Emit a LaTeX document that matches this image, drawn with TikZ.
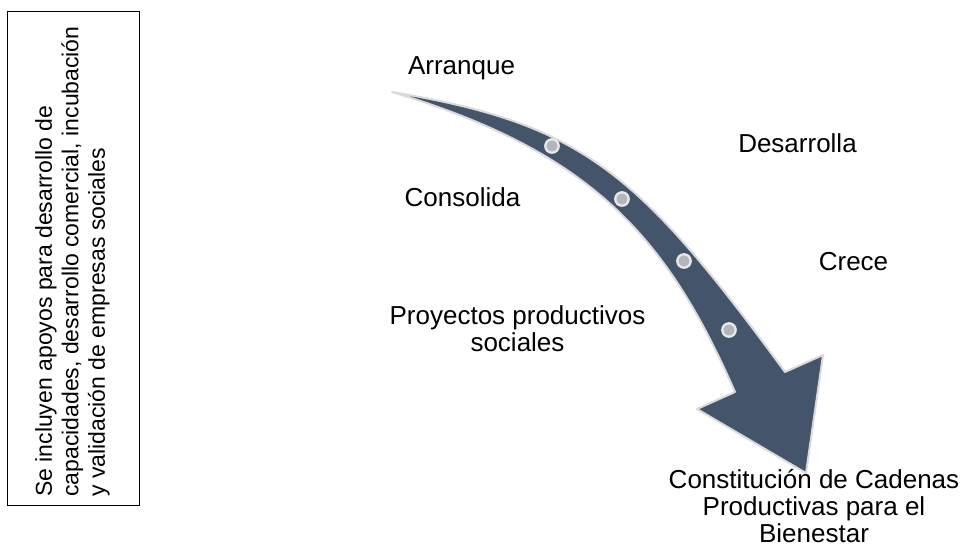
\documentclass[tikz,border=0pt]{standalone}
\usepackage{fontspec}
\setmainfont{Liberation Sans}
\definecolor{arrowfill}{RGB}{68,84,106}
\definecolor{arrowedge}{RGB}{218,218,218}
\definecolor{dotgray}{RGB}{180,182,188}
\definecolor{dotring}{RGB}{232,232,232}
\tikzset{
  lbl/.style={font=\fontsize{26}{27}\selectfont, inner sep=0pt, align=center, text=black},
  marker/.style={circle, fill=dotgray, draw=dotring, line width=2.3pt, minimum size=13.4pt, inner sep=0pt},
  sidebox/.style={draw=black, line width=1pt, minimum width=132pt, minimum height=493pt, inner sep=0pt},
}
\begin{document}
\begin{tikzpicture}[x=1pt,y=-1pt]
\useasboundingbox (0,0) rectangle (964,548);
% left box
\node[sidebox] (box) at (73,258.5) {};
\node[rotate=90, anchor=west, inner sep=0pt, align=left, font=\fontsize{23}{26.5}\selectfont] (boxtext) at (72.5,497)
  {Se incluyen apoyos para desarrollo de\\capacidades, desarrollo comercial, incubación\\y validación de empresas sociales};
% curved arrow
\path[fill=arrowfill, draw=arrowedge, line width=2pt, line join=round]
  (392,92) .. controls (582,124) and (637,170) .. (785,372)
  -- (823,355) -- (806,473) -- (697,409) -- (735,392)
  .. controls (667,237) and (592,152) .. cycle;
% dots
\node[marker] (d1) at (552,146) {};
\node[marker] (d2) at (622,199) {};
\node[marker] (d3) at (684,261) {};
\node[marker] (d4) at (729,330) {};
% labels
\node[lbl, anchor=base] (arranque) at (461.5,75) {Arranque};
\node[lbl, anchor=base] (desarrolla) at (797.5,153) {Desarrolla};
\node[lbl, anchor=base] (consolida) at (462.5,207) {Consolida};
\node[lbl, anchor=base] (crece) at (853.5,270) {Crece};
\node[lbl, anchor=north] (proyectos) at (517.5,305.4) {Proyectos productivos\\sociales};
\node[lbl, anchor=north] (cadenas) at (814,469.5) {Constitución de Cadenas\\Productivas para el\\Bienestar};
\end{tikzpicture}
\end{document}
